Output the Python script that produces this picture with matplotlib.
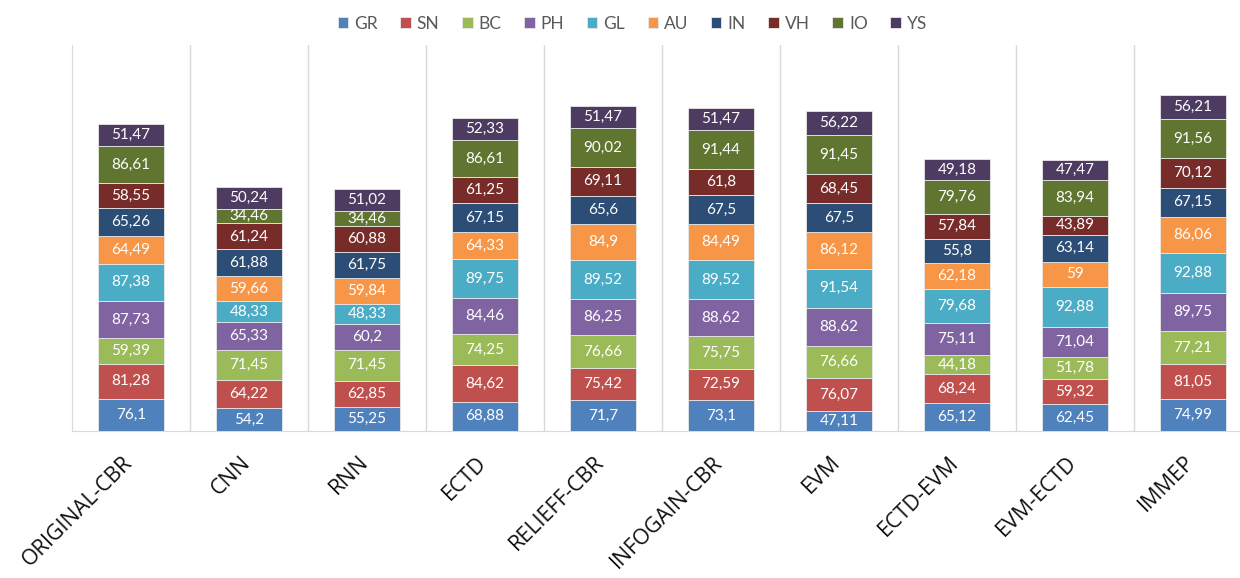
import matplotlib
matplotlib.use("Agg")
import matplotlib.pyplot as plt
import matplotlib.transforms as mtransforms
import numpy as np

categories = ["ORIGINAL-CBR", "CNN", "RNN", "ECTD", "RELIEFF-CBR", "INFOGAIN-CBR",
              "EVM", "ECTD-EVM", "EVM-ECTD", "IMMEP"]
series_names = ["GR", "SN", "BC", "PH", "GL", "AU", "IN", "VH", "IO", "YS"]

GR = [76.1, 54.2, 55.25, 68.88, 71.7, 73.1, 47.11, 65.12, 62.45, 74.99]
SN = [81.28, 64.22, 62.85, 84.62, 75.42, 72.59, 76.07, 68.24, 59.32, 81.05]
BC = [59.39, 71.45, 71.45, 74.25, 76.66, 75.75, 76.66, 44.18, 51.78, 77.21]
PH = [87.73, 65.33, 60.2, 84.46, 86.25, 88.62, 88.62, 75.11, 71.04, 89.75]
GL = [87.38, 48.33, 48.33, 89.75, 89.52, 89.52, 91.54, 79.68, 92.88, 92.88]
AU = [64.49, 59.66, 59.84, 64.33, 84.9, 84.49, 86.12, 62.18, 59, 86.06]
IN = [65.26, 61.88, 61.75, 67.15, 65.6, 67.5, 67.5, 55.8, 63.14, 67.15]
VH = [58.55, 61.24, 60.88, 61.25, 69.11, 61.8, 68.45, 57.84, 43.89, 70.12]
IO = [86.61, 34.46, 34.46, 86.61, 90.02, 91.44, 91.45, 79.76, 83.94, 91.56]
YS = [51.47, 50.24, 51.02, 52.33, 51.47, 51.47, 56.22, 49.18, 47.47, 56.21]

colors = ["#4F81BD", "#C0504D", "#9BBB59", "#8064A2", "#4BACC6",
          "#F79646", "#2C4D75", "#772C2A", "#5F7530", "#4D3B62"]

data = [GR, SN, BC, PH, GL, AU, IN, VH, IO, YS]

plt.rcParams['font.family'] = ['Lato', 'DejaVu Sans']

fig = plt.figure(figsize=(12.4, 5.78), dpi=100)
ax = fig.add_axes([72/1240, (578-431)/578, 1180/1240, (431-45)/578])

x = np.arange(len(categories))
bottom = np.zeros(len(categories))
handles = []
for name, vals, col in zip(series_names, data, colors):
    vals = np.array(vals, dtype=float)
    bars = ax.bar(x, vals, width=0.56, bottom=bottom, color=col,
                  edgecolor="#E8E8E8", linewidth=0.6, label=name, zorder=3)
    handles.append(bars)
    for xi, b, v in zip(x, bottom, vals):
        txt = ("%g" % v).replace(".", ",")
        ax.text(xi, b + v / 2, txt, ha="center", va="center",
                color="white", fontsize=11, zorder=4)
    bottom += vals

ax.set_xlim(-0.5, len(categories) - 0.5)
ax.set_ylim(0, 904)

# category separators
for b in np.arange(0.5, len(categories) - 0.5, 1.0):
    ax.axvline(b, color="#D9D9D9", linewidth=1, zorder=1)

for s in ["top", "right"]:
    ax.spines[s].set_visible(False)
ax.spines["left"].set_color("#D9D9D9")
ax.spines["bottom"].set_color("#D9D9D9")
ax.set_yticks([])
ax.set_xticks(x)
ax.set_xticklabels(categories, rotation=45, ha="right", rotation_mode="anchor",
                   fontsize=15.5, color="#111111", family=["Open Sans", "DejaVu Sans"])
ax.tick_params(axis="x", length=0, pad=15)
offset = mtransforms.ScaledTranslation(-9/100, 0, fig.dpi_scale_trans)
for lab in ax.get_xticklabels():
    lab.set_transform(lab.get_transform() + offset)

fig.legend(handles=handles, labels=series_names, loc="upper center",
           bbox_to_anchor=(0.51, 1.0), ncol=10, frameon=False,
           fontsize=12.5, handlelength=0.6, handleheight=0.6,
           handletextpad=0.35, columnspacing=1.3, labelcolor="#595959")

fig.savefig("out.png", dpi=100)
